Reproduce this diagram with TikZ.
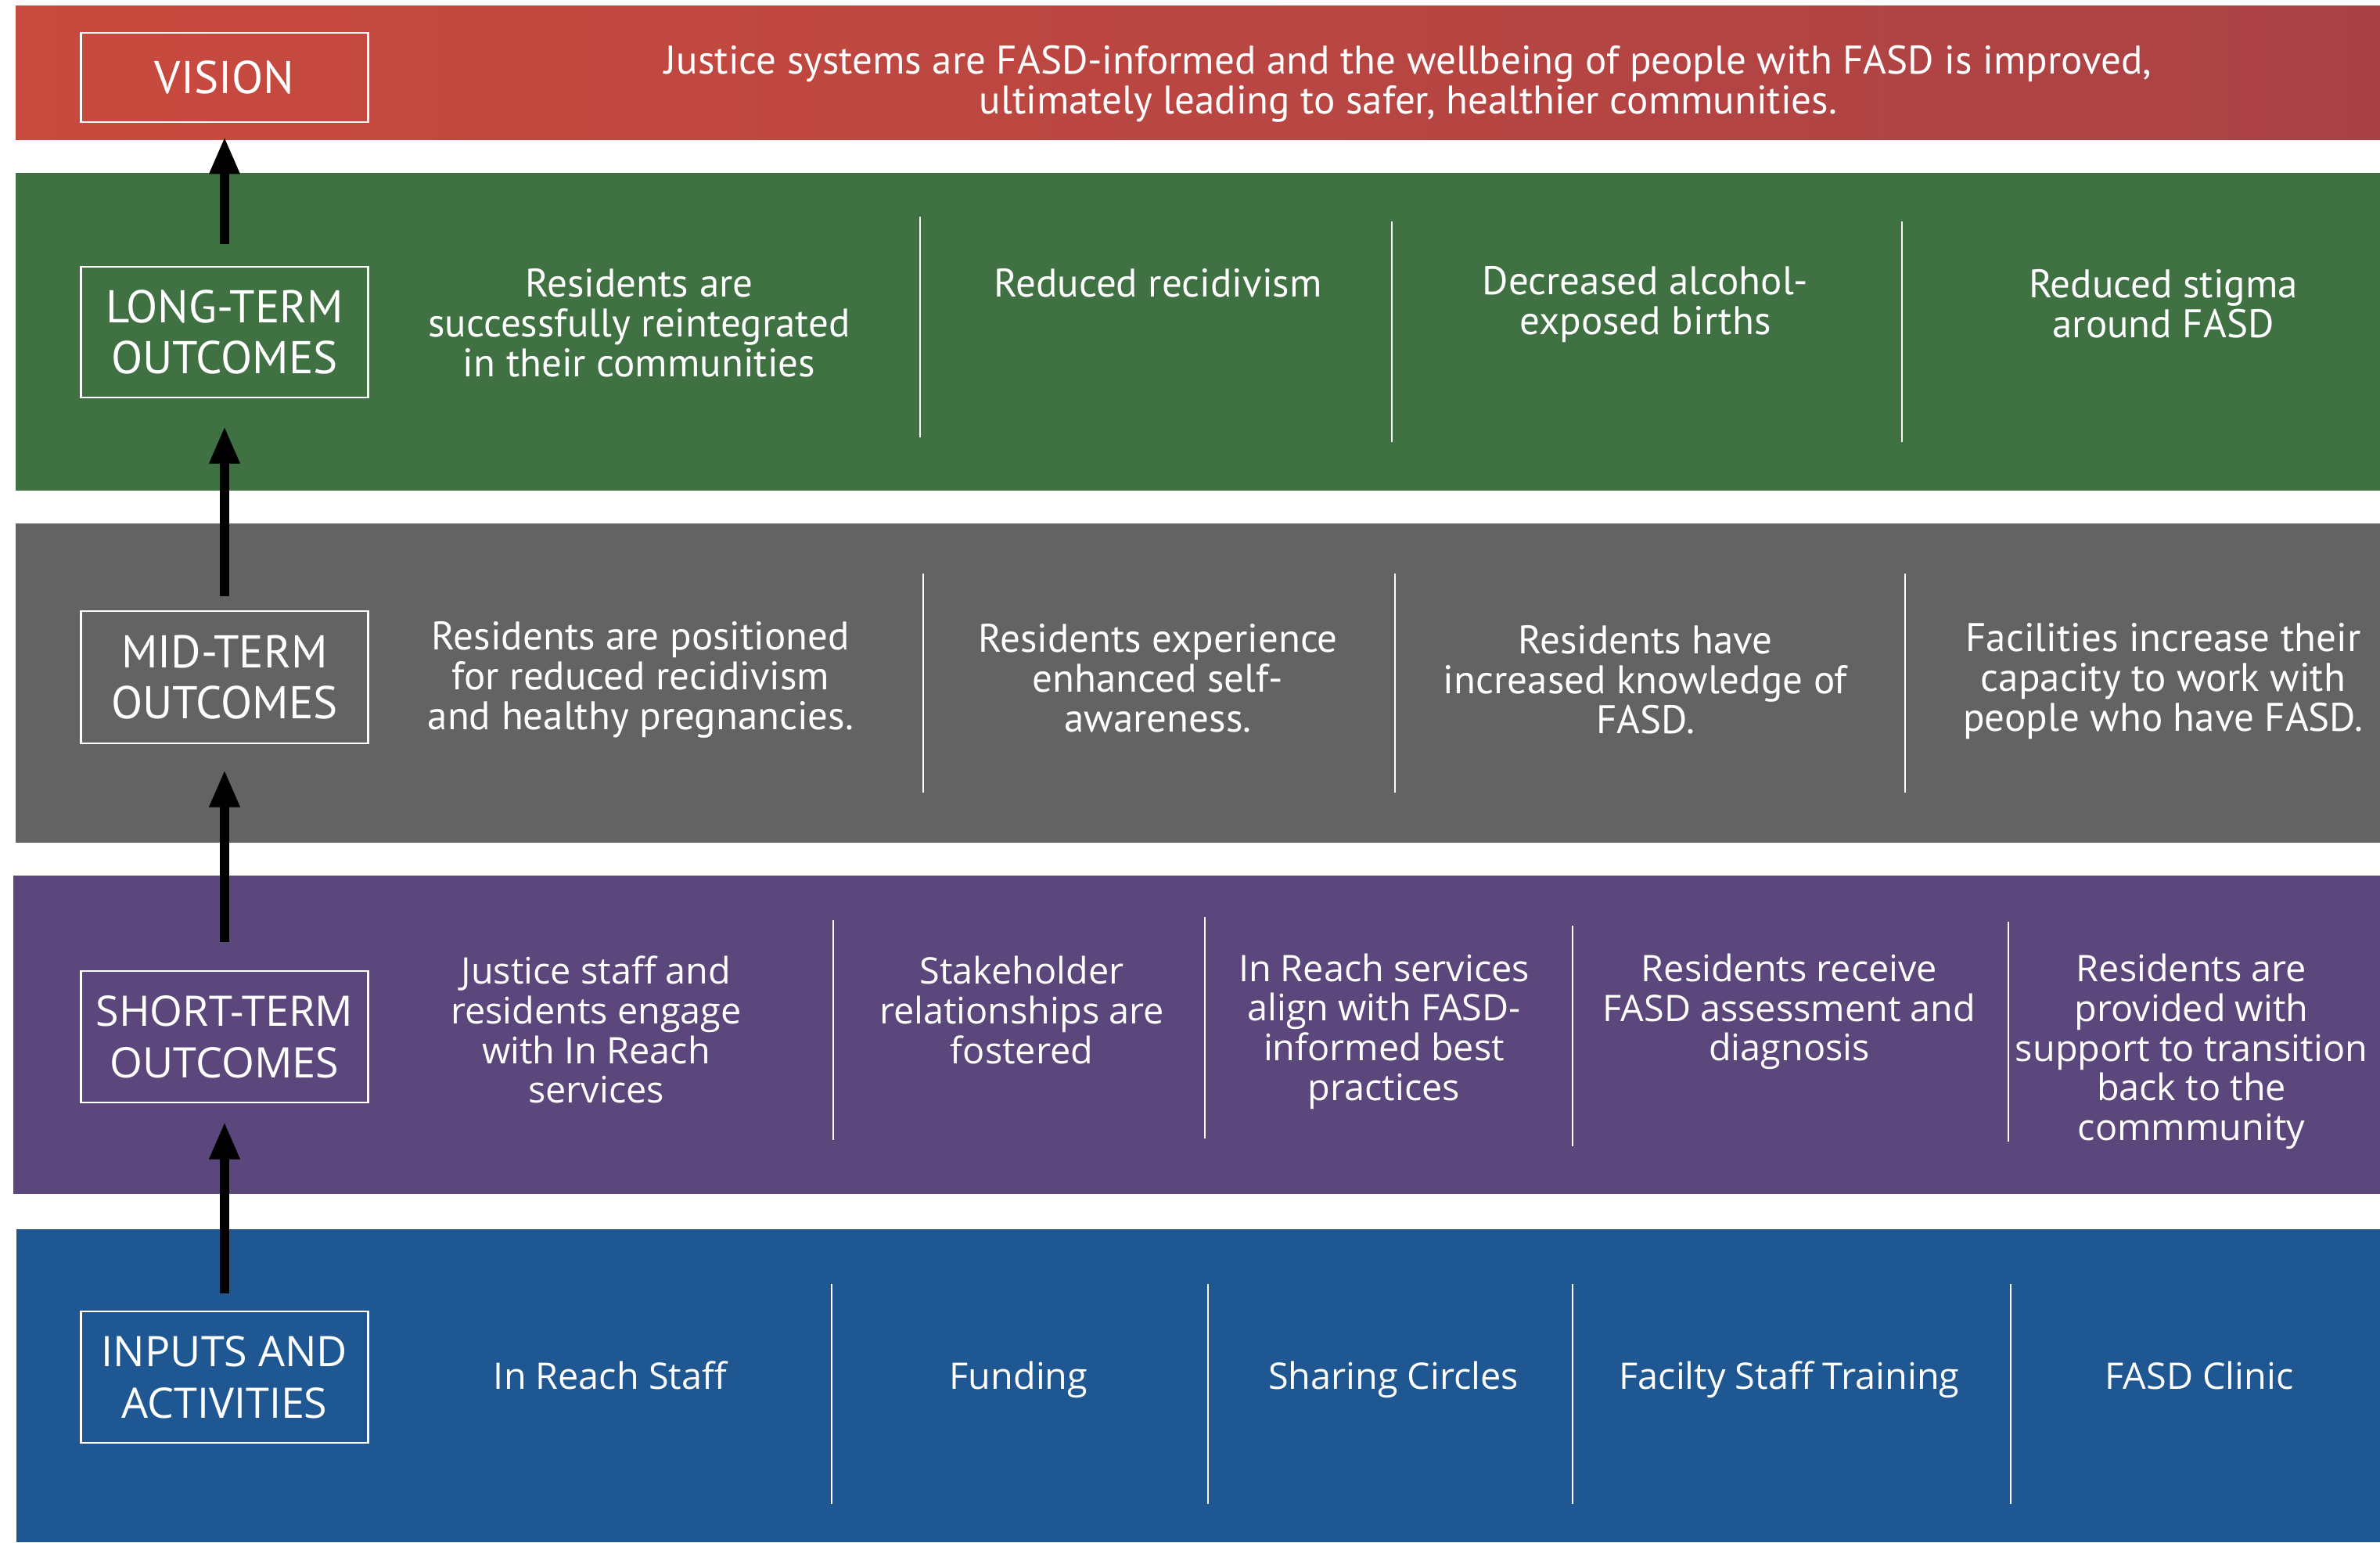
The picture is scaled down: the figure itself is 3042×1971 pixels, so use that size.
\documentclass[tikz,border=0pt]{standalone}
\usepackage{fontspec}
\setmainfont{PT Sans}
\newfontfamily\osans{Open Sans}
\usetikzlibrary{arrows.meta}
\definecolor{redL}{RGB}{201,74,62}
\definecolor{redR}{RGB}{170,66,69}
\definecolor{grn}{RGB}{63,113,66}
\definecolor{gry}{RGB}{99,99,99}
\definecolor{pur}{RGB}{91,71,124}
\definecolor{blu}{RGB}{30,87,145}
\begin{document}
\begin{tikzpicture}[x=0.01cm,y=-0.01cm,
  lbl/.style={draw=white,line width=0.8pt,text=white,minimum width=3.66cm,inner sep=0pt,align=center,
    font=\fontsize{16.7}{18.6}\selectfont},
  lblB/.style={lbl,font=\osans\fontsize{15.3}{18.8}\selectfont},
  txt/.style={text=white,align=center,inner sep=0pt,font=\fontsize{14.5}{14.5}\selectfont},
  txtB/.style={txt,font=\osans\fontsize{13.3}{14.4}\selectfont},
  sep/.style={white,line width=0.8pt},
  up/.style={-{Triangle[width=0.36cm,length=0.48cm]},line width=0.12cm,black}]
\useasboundingbox (0,0) rectangle (3042,1971);
\fill[white] (0,0) rectangle (3042,1971);
% bands
\shade[left color=redL,right color=redR] (20,7) rectangle (3042,178);
\fill[grn] (20,221) rectangle (3042,627);
\fill[gry] (20,669) rectangle (3042,1077);
\fill[pur] (17,1119) rectangle (3042,1526);
\fill[blu] (21,1571) rectangle (3042,1971);
% label boxes
\node[lbl,minimum height=1.14cm] (vis) at (287,99) {VISION};
\node[lbl,minimum height=1.67cm] (lt) at (287,424.5) {LONG-TERM\\OUTCOMES};
\node[lbl,minimum height=1.69cm] (mt) at (287,865.5) {MID-TERM\\OUTCOMES};
\node[lblB,minimum height=1.68cm] (st) at (287,1325) {SHORT-TERM\\OUTCOMES};
\node[lblB,minimum height=1.68cm] (ia) at (287,1760) {INPUTS AND\\ACTIVITIES};
% arrows
\draw[up,shorten <=0.28cm,shorten >=0.17cm] (lt.north) -- (vis.south);
\draw[up,shorten <=0.18cm,shorten >=0.35cm] (mt.north) -- (lt.south);
\draw[up,shorten <=0.36cm,shorten >=0.32cm] (st.north) -- (mt.south);
\draw[up,shorten <=0.22cm,shorten >=0.23cm] (ia.north) -- (st.south);
% vision text
\node[txt] (v0) at (1800,107) {Justice systems are FASD-informed and the wellbeing of people with FASD is improved,\\ultimately leading to safer, healthier communities.};
% long-term
\node[txt] (l1) at (817,413) {Residents are\\successfully reintegrated\\in their communities};
\node[txt] (l2) at (1480,362) {Reduced recidivism};
\node[txt] (l3) at (2103,389) {Decreased alcohol-\\exposed births};
\node[txt] (l4) at (2765,388) {Reduced stigma\\around FASD};
\draw[sep] (1176,277) -- (1176,559);
\draw[sep] (1779,283) -- (1779,565);
\draw[sep] (2431,283) -- (2431,565);
% mid-term
\node[txt] (m1) at (819,869) {Residents are positioned\\for reduced recidivism\\and healthy pregnancies.};
\node[txt] (m2) at (1480,867) {Residents experience\\enhanced self-\\awareness.};
\node[txt] (m3) at (2103,869) {Residents have\\increased knowledge of\\FASD.};
\node[txt] (m4) at (2765,871) {Facilities increase their\\capacity to work with\\people who have FASD.};
\draw[sep] (1180,733) -- (1180,1013);
\draw[sep] (1783,733) -- (1783,1013);
\draw[sep] (2435,733) -- (2435,1013);
% short-term
\node[txtB] (s1) at (762,1316) {Justice staff and\\residents engage\\with In Reach\\services};
\node[txtB] (s2) at (1306,1291) {Stakeholder\\relationships are\\fostered};
\node[txtB] (s3) at (1769,1318) {In Reach services\\align with FASD-\\informed best\\practices};
\node[txtB] (s4) at (2287,1293) {Residents receive\\FASD assessment and\\diagnosis};
\node[txtB] (s5) at (2801,1344) {Residents are\\provided with\\support to transition\\back to the\\commmunity};
\draw[sep] (1065,1176) -- (1065,1457);
\draw[sep] (1540,1172) -- (1540,1455);
\draw[sep] (2010,1183) -- (2010,1465);
\draw[sep] (2567,1178) -- (2567,1459);
% inputs
\node[txtB,anchor=base] (i1) at (780,1775) {In Reach Staff};
\node[txtB,anchor=base] (i2) at (1302,1775) {Funding};
\node[txtB,anchor=base] (i3) at (1781,1775) {Sharing Circles};
\node[txtB,anchor=base] (i4) at (2287,1775) {Facilty Staff Training};
\node[txtB,anchor=base] (i5) at (2811,1775) {FASD Clinic};
\draw[sep] (1063,1641) -- (1063,1922);
\draw[sep] (1544,1641) -- (1544,1922);
\draw[sep] (2010,1641) -- (2010,1922);
\draw[sep] (2570,1641) -- (2570,1922);
\end{tikzpicture}
\end{document}
